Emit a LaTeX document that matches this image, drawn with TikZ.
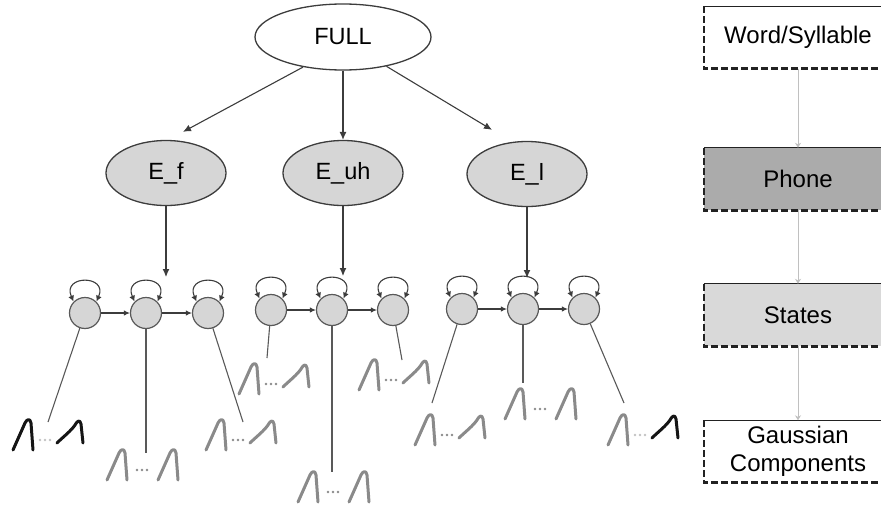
\documentclass[tikz,border=0pt]{standalone}
\usepackage{fontspec}
\setmainfont{Liberation Sans}
\usetikzlibrary{arrows.meta,shapes.geometric,calc}
\definecolor{edge}{HTML}{3C3C3C}
\definecolor{nodefill}{HTML}{D6D6D6}
\definecolor{phonefill}{HTML}{ABABAB}
\definecolor{statefill}{HTML}{D9D9D9}
\definecolor{mixgray}{HTML}{8A8A8A}
\definecolor{mixdark}{HTML}{151515}
\definecolor{dotfaint}{HTML}{C2C2C2}
\definecolor{linkgray}{HTML}{C0C0C0}
\definecolor{boxline}{HTML}{222222}

\tikzset{
  sym/.pic={\draw[peak] (0,0) -- (12,-27) .. controls (14,-31) and (17,-32) .. (18,-27) -- (20,0);},
  skew/.pic={\draw[peak] (0,-3) .. controls (6,-9) and (14,-15) .. (18,-21)
                        .. controls (20,-25) and (23,-27) .. (24,-22) -- (26,-3);},
  dots/.pic={\fill (0,-10) circle (1.3) (5,-10) circle (1.3) (10,-10) circle (1.3);},
  peak/.style={line width=3,line cap=round,line join=round}
}

% mixture of a narrow peak, dots and a skewed peak
\newcommand\skewmix[5]{\begin{scope}[shift={(#1,#2)}]
  \pic[color=#3] at (0,0) {sym};
  \pic[color=#4] at (27,0) {dots};
  \pic[color=#5] at (44,-4) {skew};
\end{scope}}
% mixture of two narrow peaks with dots between
\newcommand\symmix[2]{\begin{scope}[shift={(#1,#2)}]
  \pic[color=mixgray] at (0,0) {sym};
  \pic[color=mixgray] at (30,0) {dots};
  \pic[color=mixgray] at (51,0) {sym};
\end{scope}}

\begin{document}
\begin{tikzpicture}[x=1pt,y=-1pt,
  topnode/.style={ellipse,draw=edge,line width=1.3,fill=white,minimum width=176,
    minimum height=66,inner sep=0,font=\fontsize{23.5}{26}\selectfont},
  mixnode/.style={ellipse,draw=edge,line width=1.3,fill=nodefill,minimum width=120,
    minimum height=65,inner sep=0,font=\fontsize{23.5}{26}\selectfont},
  hmmstate/.style={circle,draw=edge!85,line width=1.2,fill=nodefill,minimum size=31,inner sep=0},
  arr/.style={draw=edge,line width=1.1,-{Latex[length=8pt,width=7pt]}},
  harr/.style={draw=edge,line width=1.1,-{Latex[length=6pt,width=5.5pt]}},
  selfloop/.style={draw=edge,line width=1.1,{Latex[length=6pt,width=6pt]}-{Latex[length=6pt,width=6pt]}},
  emit/.style={draw=edge!85,line width=1.1},
  levelbox/.style={minimum width=188,minimum height=62,inner sep=0,
    font=\fontsize{24}{28}\selectfont,align=center},
  boxtop/.style={draw=boxline,line width=1.0},
  boxdash/.style={draw=boxline,line width=2.6,dash pattern=on 7pt off 3pt},
  link/.style={draw=linkgray,line width=0.9,-{Stealth[length=5pt,width=6pt]}}
]
\clip (0,0) rectangle (881,506);

% model tree
\node[topnode] (full) at (343,37) {FULL};
\node[mixnode] (ef) at (166,173) {E\_f};
\node[mixnode] (euh) at (343,173) {E\_uh};
\node[mixnode] (el) at (527,174) {E\_l};

\draw[arr] (full.217) -- ($(ef.north)+(17,-8)$);
\draw[arr] (full.south) -- (euh.north);
\draw[arr] (full.326) -- ($(el.north)+(-35,-11)$);

% entry arrows into the state chains
\coordinate (qf) at (166,277);
\coordinate (qu) at (343,276);
\coordinate (ql) at (527,278);
\draw[arr] (ef.south) -- (qf);
\draw[arr] (euh.south) -- (qu);
\draw[arr] (el.south) -- (ql);

% HMM states
\node[hmmstate] (f1) at (85,313) {};
\node[hmmstate] (f2) at (146,313) {};
\node[hmmstate] (f3) at (208,313) {};
\node[hmmstate] (u1) at (271,310) {};
\node[hmmstate] (u2) at (332,310) {};
\node[hmmstate] (u3) at (393,310) {};
\node[hmmstate] (l1) at (462,309) {};
\node[hmmstate] (l2) at (523,309) {};
\node[hmmstate] (l3) at (584,309) {};

\foreach \a/\b in {f1/f2,f2/f3,u1/u2,u2/u3,l1/l2,l2/l3}
  \draw[harr] (\a) -- (\b);
\foreach \s in {f1,f2,f3,u1,u2,u3,l1,l2,l3}
  \draw[selfloop] (\s.135) .. controls +(-12,-27) and +(12,-27) .. (\s.45);

% emission links
\coordinate (fe1) at (48,422);
\coordinate (fe2) at (146,453);
\coordinate (fe3) at (243,422);
\coordinate (ue1) at (267,358);
\coordinate (ue2) at (332,472);
\coordinate (ue3) at (402,360);
\coordinate (le1) at (432,403);
\coordinate (le2) at (523,383);
\coordinate (le3) at (624,403);
\foreach \s/\t in {f1/fe1,f2/fe2,f3/fe3,u1/ue1,u2/ue2,u3/ue3,l1/le1,l2/le2,l3/le3}
  \draw[emit] (\s) -- (\t);

% Gaussian mixtures
\skewmix{13}{450}{mixdark}{dotfaint}{mixdark}
\symmix{107}{480}
\skewmix{206}{450}{mixgray}{mixgray}{mixgray}
\skewmix{239}{394}{mixgray}{mixgray}{mixgray}
\symmix{298}{502}
\skewmix{359}{390}{mixgray}{mixgray}{mixgray}
\skewmix{415}{445}{mixgray}{mixgray}{mixgray}
\symmix{505}{419}
\skewmix{608}{445}{mixgray}{dotfaint}{mixdark}

% hierarchy levels
\node[levelbox,fill=white] (word) at (798,37.5) {Word/Syllable};
\node[levelbox,fill=phonefill] (phone) at (798,179) {Phone};
\node[levelbox,fill=statefill] (states) at (798,315) {States};
\node[levelbox,fill=white] (gauss) at (798,451.5) {Gaussian\\Components};
\foreach \b in {word,phone,states,gauss}{
  \draw[boxtop] (\b.north west) -- (\b.north east);
  \draw[boxdash] (\b.north west) -- (\b.south west) -- (\b.south east);
}
\draw[link] (word.south) -- (phone.north);
\draw[link] (phone.south) -- (states.north);
\draw[link] (states.south) -- (gauss.north);
\end{tikzpicture}
\end{document}
